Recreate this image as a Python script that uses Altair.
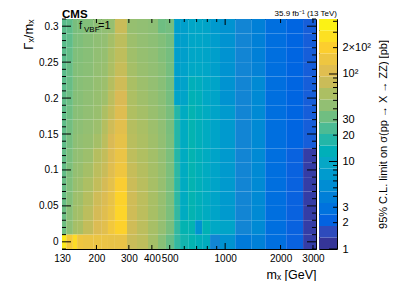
import math
import altair as alt
import pandas as pd

# ---------------- data ----------------
mass_edges = [130, 137, 149, 157, 169, 192, 214, 231, 252, 293, 332, 381, 432, 477,
              528, 569, 630, 687, 750, 828, 938, 1134, 1386, 1651, 2146, 2650, 3115]
width_centers = [0.30, 0.28, 0.26, 0.24, 0.22, 0.20, 0.18, 0.16,
                 0.14, 0.12, 0.10, 0.08, 0.06, 0.04, 0.02, 0.00]
# limit [pb] per row (top -> bottom), per mass column (left -> right)
limit_rows = [
    [27, 28, 35, 36, 38, 42, 44, 46, 80, 46, 44, 42, 32, 34, 8, 8, 9.5, 9.5, 9, 7, 6, 4.5, 4, 2.7, 2.2, 2.0],
    [27, 28, 36, 37, 40, 43, 45, 55, 70, 50, 45, 42, 38, 34, 8, 8, 9.5, 9.5, 9, 7.5, 6, 4.5, 4, 2.7, 2.2, 2.0],
    [27, 29, 37, 38, 40, 44, 46, 58, 72, 52, 46, 43, 38, 34, 8, 8, 9.5, 9.5, 9, 8, 6, 4.5, 4, 2.7, 2.2, 2.0],
    [27, 30, 38, 39, 41, 45, 48, 60, 78, 55, 48, 44, 40, 34, 8, 8.5, 10, 10, 9.5, 8, 6, 4.5, 4.2, 2.7, 2.2, 2.0],
    [27, 30, 38, 40, 42, 46, 50, 65, 85, 58, 50, 45, 40, 34, 8, 8.5, 13, 12, 10, 9, 6, 4.5, 5, 2.7, 2.2, 2.0],
    [28, 31, 39, 40, 43, 47, 52, 70, 95, 60, 52, 46, 41, 34, 9, 9, 14, 13, 10, 9, 6, 4.5, 5, 2.7, 2.2, 2.0],
    [28, 32, 40, 41, 44, 48, 60, 75, 105, 62, 55, 48, 42, 35, 18, 11, 15, 13, 11, 9, 7, 4.5, 5, 2.7, 2.2, 2.0],
    [28, 33, 41, 42, 45, 50, 65, 85, 115, 65, 58, 50, 43, 35, 18, 11, 15, 13, 11, 9, 7, 4.5, 5, 2.7, 2.2, 2.0],
    [28, 34, 42, 44, 47, 55, 70, 95, 125, 68, 60, 52, 44, 36, 18, 11, 15, 13, 11, 9, 7, 4.5, 5, 2.7, 2.2, 2.0],
    [29, 35, 43, 45, 50, 65, 75, 100, 135, 72, 62, 54, 45, 36, 18, 11, 15, 13, 11, 9, 7, 4.5, 5, 2.7, 2.1, 1.3],
    [29, 36, 45, 47, 55, 70, 80, 110, 150, 78, 65, 55, 46, 36, 19, 11, 15, 13, 11, 9, 7, 4.5, 5, 2.7, 2.1, 1.3],
    [30, 37, 47, 50, 60, 75, 90, 120, 190, 82, 68, 56, 46, 36, 19, 11, 15, 13, 11, 9, 7, 4.5, 5, 2.7, 2.1, 1.3],
    [30, 38, 50, 52, 65, 85, 100, 130, 215, 85, 70, 57, 46, 36, 19, 11, 15, 13, 11, 9, 7, 4.5, 5, 2.7, 2.1, 1.3],
    [31, 40, 52, 55, 70, 90, 110, 140, 225, 85, 70, 57, 46, 36, 20, 11, 15, 13, 11, 9, 7, 4.5, 5, 2.7, 2.1, 1.3],
    [32, 42, 55, 58, 75, 100, 115, 160, 210, 85, 70, 56, 45, 35, 20, 15, 15, 6, 14, 10, 9, 4.5, 5, 2.7, 2.1, 1.3],
    [320, 170, 250, 150, 140, 140, 135, 130, 130, 80, 72, 55, 40, 30, 20, 16, 15, 13, 12, 4.5, 6, 3.5, 4, 2.7, 2.1, 1.3],
]

x_tick_labels = [130, 200, 300, 400, 500, 1000, 2000, 3000]
x_minor_ticks = [600, 700, 800, 900]
y_tick_labels = [0, 0.05, 0.1, 0.15, 0.2, 0.25, 0.3]
y_minor_ticks = [-0.01, 0.01, 0.02, 0.03, 0.04, 0.06, 0.07, 0.08, 0.09, 0.11, 0.12, 0.13, 0.14,
                 0.16, 0.17, 0.18, 0.19, 0.21, 0.22, 0.23, 0.24, 0.26, 0.27, 0.28, 0.29, 0.31]
z_tick_labels = [1, 2, 3, 10, 20, 30, 100, 200]
z_major_ticks = [1, 10, 100]
z_minor_ticks = [2, 3, 4, 5, 6, 7, 8, 9, 20, 30, 40, 50, 60, 70, 80, 90, 200, 300, 400]
colorbar_edges = [1, 1.353, 1.832, 2.479, 3.355, 4.541, 6.146, 8.318, 11.26, 15.24, 20.62,
                  27.91, 37.77, 51.12, 69.19, 93.64, 126.7, 171.5, 232.2, 314.2, 425]

# ---------------- tables ----------------
cells = []
for g, vals in zip(width_centers, limit_rows):
    for i, v in enumerate(vals):
        cells.append({"m0": mass_edges[i], "m1": mass_edges[i + 1],
                      "g0": round(g - 0.01, 3), "g1": round(g + 0.01, 3), "limit": v})
cells = pd.DataFrame(cells)

cb = pd.DataFrame({"lo": colorbar_edges[:-1], "hi": colorbar_edges[1:]})
cb["mid"] = [math.sqrt(a * b) for a, b in zip(cb["lo"], cb["hi"])]

FONT = "Liberation Sans"
W, H = 254, 230
CBW = 18

parula = ["#352a87", "#0363e1", "#1485d4", "#06a7c6", "#38b99e",
          "#92bf73", "#d9ba56", "#fcce2e", "#f9fb0e"]
color_domain = [1, 2.131, 4.541, 9.677, 20.62, 43.95, 93.65, 199.6, 425]
cscale = alt.Scale(type="log", domain=color_domain, range=parula, clamp=True)

xscale = alt.Scale(type="log", domain=[130, 3115], nice=False)
yscale = alt.Scale(domain=[-0.01, 0.31], nice=False, zero=False)

xaxis = alt.Axis(values=x_tick_labels, format="d", title="mₓ [GeV]",
                 titleAnchor="end", titleFontSize=12.5, titlePadding=5,
                 labelPadding=4, ticks=False, labelFlush=False, labelOverlap=False)
yaxis = alt.Axis(values=y_tick_labels, format="~g", title="Γₓ/mₓ",
                 titleAnchor="end", titleFontSize=13, titlePadding=3,
                 labelPadding=4, ticks=False, labelOverlap=False, labelFlush=False)

heat = alt.Chart(cells).mark_rect(strokeWidth=0).encode(
    x=alt.X("m0:Q", scale=xscale, axis=xaxis),
    x2="m1:Q",
    y=alt.Y("g0:Q", scale=yscale, axis=yaxis),
    y2="g1:Q",
    color=alt.Color("limit:Q", scale=cscale, legend=None),
)

ymaj = pd.DataFrame({"v": y_tick_labels})
ymin = pd.DataFrame({"v": y_minor_ticks})
xmaj = pd.DataFrame({"v": [200, 300, 400, 500, 2000, 3000]})
xthousand = pd.DataFrame({"v": [1000]})
xmin = pd.DataFrame({"v": x_minor_ticks})

def yticks(df, length):
    left = alt.Chart(df).mark_rule(color="black", strokeWidth=1).encode(
        y=alt.Y("v:Q", scale=yscale, axis=yaxis), x=alt.value(0), x2=alt.value(length))
    right = alt.Chart(df).mark_rule(color="black", strokeWidth=1).encode(
        y=alt.Y("v:Q", scale=yscale, axis=yaxis), x=alt.value(W - length), x2=alt.value(W))
    return left + right

def xticks(df, length):
    bottom = alt.Chart(df).mark_rule(color="black", strokeWidth=1).encode(
        x=alt.X("v:Q", scale=xscale, axis=xaxis), y=alt.value(H - length), y2=alt.value(H))
    top = alt.Chart(df).mark_rule(color="black", strokeWidth=1).encode(
        x=alt.X("v:Q", scale=xscale, axis=xaxis), y=alt.value(0), y2=alt.value(length))
    return bottom + top

def label(text, x, y, size, weight="normal", align="left"):
    return alt.Chart(pd.DataFrame({"t": [text]})).mark_text(
        font=FONT, fontSize=size, fontWeight=weight, align=align,
        baseline="alphabetic", color="black").encode(
        text="t:N", x=alt.value(x), y=alt.value(y))

main = alt.layer(
    heat,
    yticks(ymaj, 9), yticks(ymin, 4),
    xticks(xmaj, 4), xticks(xthousand, 6), xticks(xmin, 3),
    label("CMS", 0, -1.5, 11.5, weight="bold"),
    label("f", 17, 10, 11),
    label("VBF", 22, 13, 8),
    label("=1", 36, 10, 11),
).properties(width=W, height=H)

cbscale = alt.Scale(type="log", domain=[1, 425], nice=False)
zaxis = alt.Axis(orient="right", values=z_tick_labels, ticks=False, domain=False,
                 labelFontSize=11, labelPadding=5, labelOverlap=False, labelFlush=False,
                 labelExpr="datum.value == 100 ? '10²' : datum.value == 200 ? '2×10²' : format(datum.value, 'd')",
                 title="95% C.L. limit on σ(pp → X → ZZ) [pb]",
                 titleFontSize=11, titleAngle=270, titlePadding=18)
cbar_rect = alt.Chart(cb).mark_rect(strokeWidth=0).encode(
    y=alt.Y("lo:Q", scale=cbscale, axis=zaxis),
    y2="hi:Q",
    color=alt.Color("mid:Q", scale=cscale, legend=None),
)
zmaj = alt.Chart(pd.DataFrame({"v": z_major_ticks})).mark_rule(color="black").encode(
    y=alt.Y("v:Q", scale=cbscale, axis=zaxis), x=alt.value(CBW - 8), x2=alt.value(CBW))
zmin = alt.Chart(pd.DataFrame({"v": z_minor_ticks})).mark_rule(color="black").encode(
    y=alt.Y("v:Q", scale=cbscale, axis=zaxis), x=alt.value(CBW - 4), x2=alt.value(CBW))

cbar = alt.layer(
    cbar_rect, zmaj, zmin,
    label("35.9 fb⁻¹ (13 TeV)", CBW, -3, 8, align="right"),
).properties(width=CBW, height=H)

chart = alt.hconcat(main, cbar, spacing=3, bounds="flush").properties(
    padding={"left": 14, "top": 0, "right": 0, "bottom": 0}
).configure_view(stroke="black", strokeWidth=1).configure_axis(
    labelFont=FONT, titleFont=FONT, labelColor="black", titleColor="black",
    labelFontSize=10, titleFontWeight="normal", domainColor="black", grid=False,
).configure_text(font=FONT)

chart.save("out.html", embed_options={"renderer": "svg", "actions": False})
